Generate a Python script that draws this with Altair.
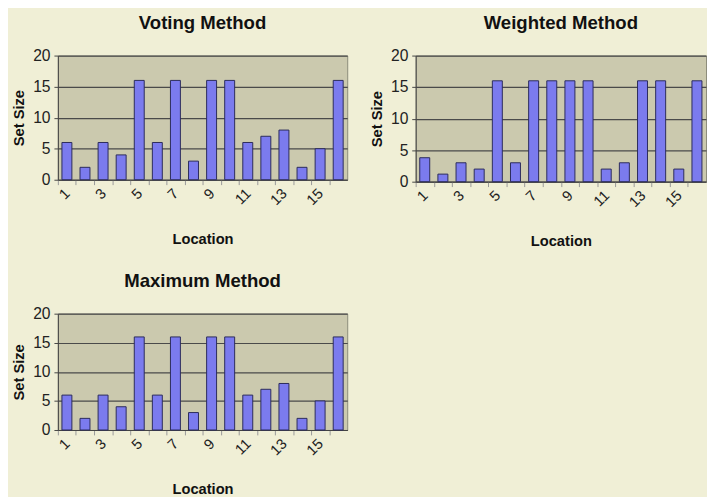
import altair as alt
import pandas as pd

locations = list(range(1, 17))
voting = [6, 2, 6, 4, 16, 6, 16, 3, 16, 16, 6, 7, 8, 2, 5, 16]
weighted = [3.8, 1.2, 3, 2, 16, 3, 16, 16, 16, 16, 2, 3, 16, 16, 2, 16]
maximum = [6, 2, 6, 4, 16, 6, 16, 3, 16, 16, 6, 7, 8, 2, 5, 16]
y_ticks = [0, 5, 10, 15, 20]

FONT = "Liberation Sans"


def panel(title, values, w, h):
    df = pd.DataFrame({"Location": locations, "Set Size": values})
    step = w / len(locations)
    return (
        alt.Chart(
            df,
            title=alt.Title(title, fontSize=19, fontWeight="bold", font=FONT,
                            offset=15, color="#111111"),
        )
        .mark_bar(fill="#7B7BEE", stroke="#2a2a5a", strokeWidth=1)
        .encode(
            x=alt.X(
                "Location:O",
                scale=alt.Scale(paddingInner=0.45, paddingOuter=0.225),
                axis=alt.Axis(
                    labelAngle=-45,
                    labelAlign="right",
                    labelBaseline="middle",
                    labelExpr="datum.value % 2 == 1 ? datum.label : ''",
                    labelFontSize=15,
                    labelFont=FONT,
                    labelColor="#222222",
                    labelPadding=6,
                    tickOffset=-step / 2,
                    labelOffset=step / 2,
                    tickColor="#999999",
                    tickSize=5,
                    domainColor="#444444",
                    titleFontSize=15,
                    titleFont=FONT,
                    titleFontWeight="bold",
                    titleColor="#111111",
                    titlePadding=25,
                    grid=False,
                ),
            ),
            y=alt.Y(
                "Set Size:Q",
                scale=alt.Scale(domain=[0, 20]),
                axis=alt.Axis(
                    values=y_ticks,
                    labelFontSize=16,
                    labelFont=FONT,
                    labelColor="#222222",
                    labelPadding=4,
                    tickColor="#444444",
                    tickSize=4,
                    domainColor="#444444",
                    gridColor="#4a4a4a",
                    gridWidth=1.2,
                    titleFontSize=15,
                    titleFont=FONT,
                    titleFontWeight="bold",
                    titleColor="#111111",
                    titlePadding=6,
                ),
            ),
        )
        .properties(width=w, height=h)
    )


top = alt.hconcat(
    panel("Voting Method", voting, 296, 127),
    panel("Weighted Method", weighted, 297, 129),
    spacing=21,
)
bottom = panel("Maximum Method", maximum, 296, 119)

chart = (
    alt.vconcat(top, bottom, spacing=23)
    .properties(padding={"left": 3, "top": 0, "right": 0, "bottom": 0})
    .configure(background="#F0EFD6")
    .configure_view(fill="#CBC9AE", stroke="#8a8a7a")
)

chart.save("out.html", embed_options={"renderer": "svg", "actions": False})
